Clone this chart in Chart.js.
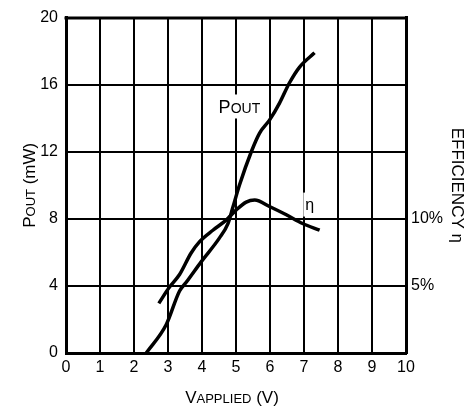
<!DOCTYPE html>
<html>
<head>
<meta charset="utf-8">
<script src="https://cdn.jsdelivr.net/npm/chart.js@4.4.1/dist/chart.umd.min.js"></script>
<style>
  html, body { margin: 0; padding: 0; background: #fff; }
  canvas { display: block; }
</style>
</head>
<body>
<canvas id="mychart" width="474" height="417"></canvas>
<script>
// Output power curve (V applied vs mW)
var pOutVolts = [2.36, 2.95, 3.34, 3.53, 3.98, 4.51, 4.76, 4.91, 5.10, 5.45, 5.69, 5.99, 6.28, 6.57, 6.87, 7.31];
var pOutMw    = [0, 1.7, 3.7, 4.2, 5.45, 6.85, 7.7, 8.7, 10.0, 12.0, 13.1, 13.9, 14.9, 16.1, 17.05, 17.9];

// Efficiency curve (V applied vs %)
var effVolts = [2.73, 3.04, 3.34, 3.68, 3.93, 4.32, 4.71, 5.0, 5.3, 5.55, 6.0, 6.48, 6.96, 7.46];
var effPct   = [3.7, 4.9, 5.85, 7.45, 8.3, 9.15, 9.9, 10.65, 11.25, 11.4, 10.9, 10.3, 9.65, 9.15];

// Tick labels shown on the right axis
var effTickLabels = [5, 10];

var FONT = "'Liberation Sans', Arial, sans-serif";

function toPoints(xs, ys) {
    return xs.map(function(x, i) { return { x: x, y: ys[i] }; });
}

// draw a run of text pieces with different sizes, centred on (cx, cy)
function drawParts(ctx, parts, cx, cy, angle) {
    ctx.save();
    ctx.translate(cx, cy);
    ctx.rotate(angle);
    ctx.textBaseline = "alphabetic";
    ctx.textAlign = "left";
    var total = 0;
    parts.forEach(function(p) {
        ctx.font = p.size + "px " + FONT;
        p.w = ctx.measureText(p.t).width;
        total += p.w;
    });
    var big = Math.max.apply(null, parts.map(function(p) { return p.size; }));
    var x = -total / 2;
    ctx.fillStyle = "#000";
    parts.forEach(function(p) {
        ctx.font = p.size + "px " + FONT;
        ctx.fillText(p.t, x, big * 0.36);
        x += p.w;
    });
    ctx.restore();
    return total;
}

var decorPlugin = {
    id: "decor",
    beforeDatasetsDraw: function(chart) {
        var ctx = chart.ctx;
        var xs = chart.scales.x, ys = chart.scales.y;
        // in-plot labels, with a white patch behind them
        var labels = [
            { parts: [{ t: "P", size: 18 }, { t: "OUT", size: 14 }], x: 5.1, y: 14.7 },
            { parts: [{ t: "\u03b7", size: 16 }], x: 7.17, y: 8.85 }
        ];
        labels.forEach(function(l) {
            var cx = xs.getPixelForValue(l.x), cy = ys.getPixelForValue(l.y);
            ctx.save();
            var w = 0;
            l.parts.forEach(function(p) {
                ctx.font = p.size + "px " + FONT;
                w += ctx.measureText(p.t).width;
            });
            ctx.fillStyle = "#fff";
            ctx.fillRect(cx - w / 2 - 2, cy - 12, w + 4, 24);
            ctx.restore();
            drawParts(ctx, l.parts, cx, cy, 0);
        });
    },
    afterDraw: function(chart) {
        var ctx = chart.ctx;
        var a = chart.chartArea;
        // top frame line
        ctx.save();
        ctx.strokeStyle = "#000";
        ctx.lineWidth = 3;
        ctx.beginPath();
        ctx.moveTo(a.left - 1.5, a.top + 0.5);
        ctx.lineTo(a.right + 1.5, a.top + 0.5);
        ctx.stroke();
        ctx.restore();
        // axis titles
        var midY = (a.top + a.bottom) / 2;
        drawParts(ctx, [{ t: "P", size: 17 }, { t: "OUT", size: 13 }, { t: " (mW)", size: 17 }],
            29, midY, -Math.PI / 2);
        drawParts(ctx, [{ t: "V", size: 17 }, { t: "APPLIED", size: 13 }, { t: " (V)", size: 17 }],
            (a.left + a.right) / 2 - 4, 397, 0);
        drawParts(ctx, [{ t: "EFFICIENCY \u03b7", size: 17 }],
            458, midY, Math.PI / 2);
    }
};

window.addEventListener("load", function() {
    var canvas = document.getElementById("mychart").getContext("2d");
    var tickFont = { family: FONT, size: 16 };

    new Chart(canvas, {
        type: "scatter",
        data: {
            datasets: [{
                label: "POUT",
                data: toPoints(pOutVolts, pOutMw),
                yAxisID: "y",
                showLine: true,
                borderColor: "#000",
                borderWidth: 3.5,
                pointRadius: 0,
                cubicInterpolationMode: "monotone",
                borderCapStyle: "butt"
            }, {
                label: "Efficiency",
                data: toPoints(effVolts, effPct),
                yAxisID: "y1",
                showLine: true,
                borderColor: "#000",
                borderWidth: 3.5,
                pointRadius: 0,
                cubicInterpolationMode: "monotone",
                borderCapStyle: "butt"
            }]
        },
        options: {
            responsive: false,
            animation: false,
            devicePixelRatio: 1,
            layout: { padding: { top: 13, left: 0, right: 0, bottom: 0 } },
            plugins: { legend: { display: false }, tooltip: { enabled: false } },
            scales: {
                x: {
                    type: "linear",
                    min: 0, max: 10,
                    ticks: { stepSize: 1, color: "#000", font: tickFont, padding: 5, maxRotation: 0 },
                    grid: { color: "#000", lineWidth: 2, drawTicks: false },
                    border: { color: "#000", width: 3 },
                    afterFit: function(s) { s.height = 64; }
                },
                y: {
                    position: "left",
                    min: 0, max: 20,
                    ticks: { stepSize: 4, color: "#000", font: tickFont, padding: 8 },
                    grid: { color: "#000", lineWidth: 2, drawTicks: false },
                    border: { color: "#000", width: 3 },
                    afterFit: function(s) { s.width = 66; }
                },
                y1: {
                    position: "right",
                    min: 0, max: 25,
                    ticks: {
                        stepSize: 5, color: "#000", font: tickFont, padding: 5,
                        callback: function(v) { return effTickLabels.indexOf(v) >= 0 ? v + "%" : ""; }
                    },
                    grid: { display: false, drawTicks: false },
                    border: { color: "#000", width: 3 },
                    afterFit: function(s) { s.width = 68; }
                }
            }
        },
        plugins: [decorPlugin]
    });
});
</script>
</body>
</html>
